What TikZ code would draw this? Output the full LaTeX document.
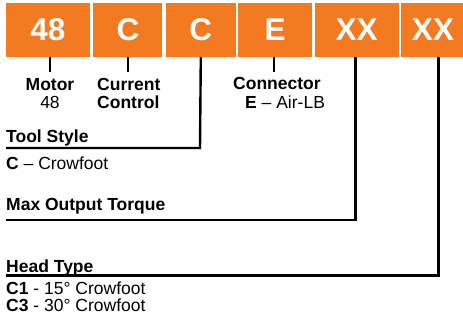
\documentclass[tikz,border=0pt]{standalone}
\usepackage{fontspec}
\setmainfont{Liberation Sans}
\usetikzlibrary{positioning,calc}
\definecolor{CodeOrange}{RGB}{243,122,33}
\tikzset{
  codebox/.style={fill=CodeOrange,text=white,minimum height=54pt,inner sep=0pt,font=\fontsize{31.5}{31.5}\selectfont\bfseries},
  ticker/.style={line width=2pt,draw=black},
  leader/.style={line width=2.4pt,draw=black,line join=miter},
  fieldname/.style={font=\fontsize{17.5}{18}\selectfont\bfseries,inner sep=0pt,anchor=base west},
  fieldval/.style={font=\fontsize{17.5}{18}\selectfont,inner sep=0pt,anchor=base west}
}
\begin{document}
\begin{tikzpicture}[x=1pt,y=-1pt]
\useasboundingbox (0,0) rectangle (463,322);
% code boxes
\node[codebox,minimum width=84pt] (motor) at (48,30) {48};
\node[codebox,minimum width=69pt,right=3pt of motor] (current) {C};
\node[codebox,minimum width=70pt,right=3pt of current] (style) {C};
\node[codebox,minimum width=74pt,right=2pt of style] (conn) {E};
\node[codebox,minimum width=84pt,right=2pt of conn] (torque) {XX};
\node[codebox,minimum width=64pt,right=2pt of torque] (head) {XX};
% short ticks
\coordinate (motortip) at (50,72);
\coordinate (currenttip) at (128,72);
\coordinate (conntip) at (274,72);
\draw[ticker] (motor.south -| motortip) -- (motortip);
\draw[ticker] (current.south -| currenttip) -- (currenttip);
\draw[ticker] (conn.south -| conntip) -- (conntip);
\node[fieldname,anchor=base] (motorname) at (50,90) {Motor};
\node[fieldval,anchor=base] (motorval) at (50,108) {48};
\node[fieldname] (currentname) at (97,90) {Current};
\node[fieldname] (currentname2) at (97,108) {Control};
\node[fieldname] (connname) at (233,89.5) {Connector};
\node[fieldval] (connval) at (245,108.5) {\textbf{E} -- Air-LB};
% long leaders
\coordinate (stylecorner) at (200,148);
\coordinate (styleend) at (6,148);
\draw[leader] (style.south) -- (stylecorner) -- (styleend);
\node[fieldname] (stylename) at (6,142.5) {Tool Style};
\node[fieldval] (styleval) at (6,169) {\textbf{C} -- Crowfoot};
\coordinate (torquecorner) at (355.5,220);
\coordinate (torqueend) at (6,220);
\draw[leader] (torque.south -| torquecorner) -- (torquecorner) -- (torqueend);
\node[fieldname] (torquename) at (6,210.5) {Max Output Torque};
\coordinate (headcorner) at (438.5,275.5);
\coordinate (headend) at (6,275.5);
\draw[leader] (head.south -| headcorner) -- (headcorner) -- (headend);
\node[fieldname] (headname) at (6,272) {Head Type};
\node[fieldval] (headval1) at (6,294.5) {\textbf{C1} - 15° Crowfoot};
\node[fieldval] (headval3) at (6,311.5) {\textbf{C3} - 30° Crowfoot};
\end{tikzpicture}
\end{document}
